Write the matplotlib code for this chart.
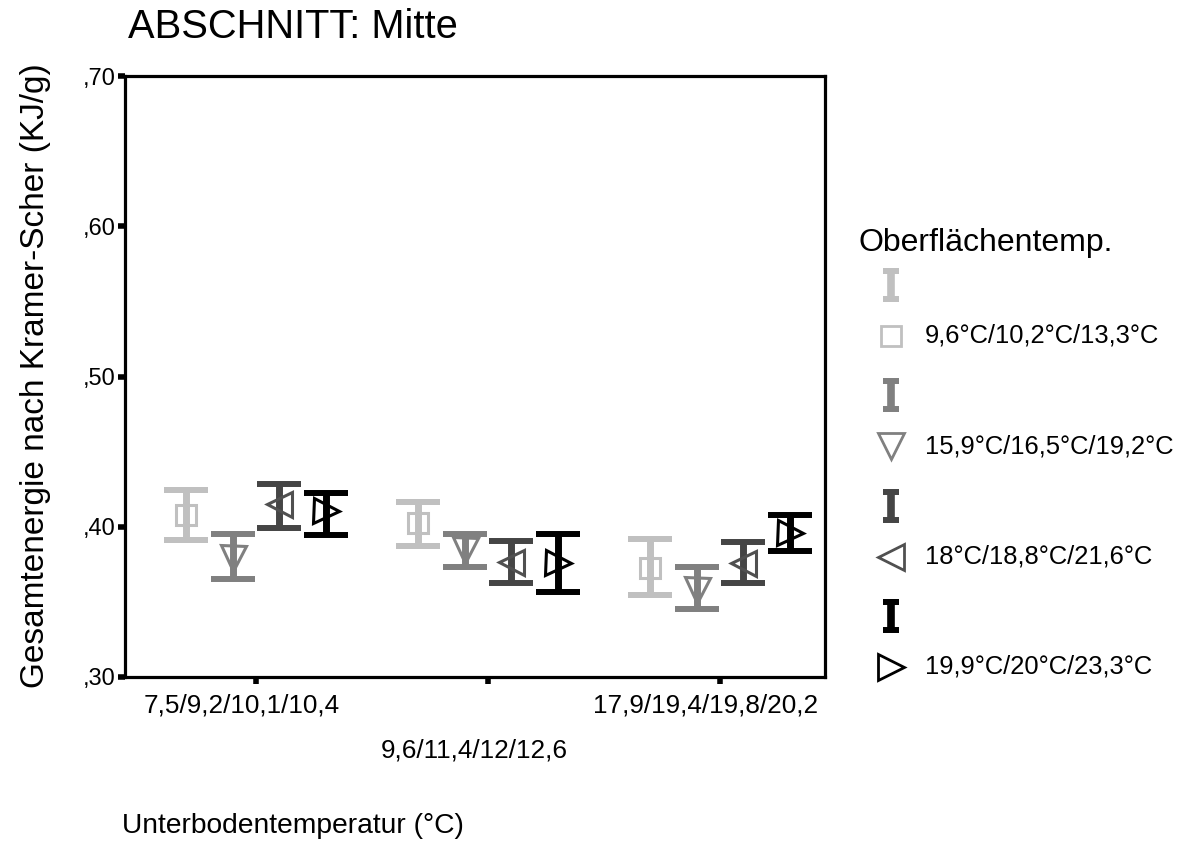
import matplotlib.pyplot as plt
import matplotlib.transforms as mtransforms

plt.rcParams['font.family'] = ['Liberation Sans', 'DejaVu Sans']

# Data: Unterbodentemperatur groups and Oberflächentemp. series
groups = ['7,5/9,2/10,1/10,4', '9,6/11,4/12/12,6', '17,9/19,4/19,8/20,2']
series = ['9,6°C/10,2°C/13,3°C', '15,9°C/16,5°C/19,2°C',
          '18°C/18,8°C/21,6°C', '19,9°C/20°C/23,3°C']
means = [[0.4080, 0.4027, 0.3727],
         [0.3793, 0.3847, 0.3580],
         [0.4153, 0.3767, 0.3760],
         [0.4107, 0.3760, 0.3960]]
upper = [[0.4247, 0.4167, 0.3920],
         [0.3953, 0.3953, 0.3733],
         [0.4287, 0.3907, 0.3900],
         [0.4227, 0.3953, 0.4080]]
lower = [[0.3913, 0.3873, 0.3547],
         [0.3653, 0.3733, 0.3453],
         [0.3993, 0.3627, 0.3627],
         [0.3947, 0.3567, 0.3840]]
yticks = [0.30, 0.40, 0.50, 0.60, 0.70]
ytick_labels = [',30', ',40', ',50', ',60', ',70']

# Styles
bar_colors = ['#c0c0c0', '#808080', '#454545', '#000000']
mk_colors = ['#c0c0c0', '#808080', '#505050', '#000000']
markers = ['s', 'v', '<', '>']
mk_sizes = [15, 18, 18, 18]
offsets = [-0.3, -0.1, 0.1, 0.3]

W, H = 1185, 842
fig = plt.figure(figsize=(W / 100, H / 100), dpi=100)
ax = fig.add_axes([125 / W, 1 - 677 / H, 700 / W, 601 / H])

for i in range(len(series)):
    xs = [g + offsets[i] for g in range(len(groups))]
    m = means[i]
    err = [[m[j] - lower[i][j] for j in range(3)],
           [upper[i][j] - m[j] for j in range(3)]]
    ax.errorbar(xs, m, yerr=err, fmt='none', ecolor=bar_colors[i],
                elinewidth=5, capsize=16, capthick=4.3, zorder=2)
    ax.plot(xs, m, linestyle='none', marker=markers[i], ms=mk_sizes[i],
            mfc='none', mec=mk_colors[i], mew=2.2, zorder=3)

ax.set_ylim(0.30, 0.70)
ax.set_xlim(-0.565, 2.453)
ax.set_yticks(yticks)
ax.set_yticklabels(ytick_labels)
ax.set_xticks([0, 2])
ax.set_xticklabels([groups[0], groups[2]])
ax.set_xticks([1], minor=True)
ax.set_xticklabels([groups[1]], minor=True)
ax.tick_params(axis='y', which='major', length=5, width=4, direction='out',
               labelsize=17, pad=2)
ax.tick_params(axis='x', which='major', length=5, width=4, direction='out',
               labelsize=18.8, pad=7)
ax.tick_params(axis='x', which='minor', length=5, width=4, direction='out',
               labelsize=18.8, pad=39)
for s in ax.spines.values():
    s.set_linewidth(2.3)

# the x labels sit a little left of their ticks in the original
shift = mtransforms.ScaledTranslation(-14 / 100, 0, fig.dpi_scale_trans)
for t in ax.xaxis.get_major_ticks() + ax.xaxis.get_minor_ticks():
    t.label1.set_transform(t.label1.get_transform() + shift)

fig.text(128 / W, 1 - 27 / H, 'ABSCHNITT: Mitte', fontsize=28.7,
         ha='left', va='center')
fig.text(36 / W, 1 - 376 / H, 'Gesamtenergie nach Kramer-Scher (KJ/g)',
         fontsize=24, rotation=90, ha='center', va='center')
fig.text(122 / W, 1 - 826 / H, 'Unterbodentemperatur (°C)', fontsize=20.3,
         ha='left', va='center')

# Legend drawn by hand in pixel coordinates
lg = fig.add_axes([0, 0, 1, 1])
lg.set_xlim(0, W)
lg.set_ylim(H, 0)
lg.axis('off')
lg.text(858, 243, 'Oberflächentemp.', fontsize=23, ha='left', va='center')
leg_sizes = [15, 19, 19, 19]
for i in range(len(series)):
    yi = 285 + i * 110.3
    lg.errorbar([891], [yi], yerr=[[14], [14]], fmt='none',
                ecolor=bar_colors[i], elinewidth=5.5, capsize=6, capthick=4.3)
    lg.plot([891], [yi + 51], linestyle='none', marker=markers[i],
            ms=leg_sizes[i], mfc='none', mec=mk_colors[i], mew=2)
    lg.text(925, yi + 51, series[i], fontsize=18.4, ha='left', va='center')

fig.savefig('out.png', dpi=100)
